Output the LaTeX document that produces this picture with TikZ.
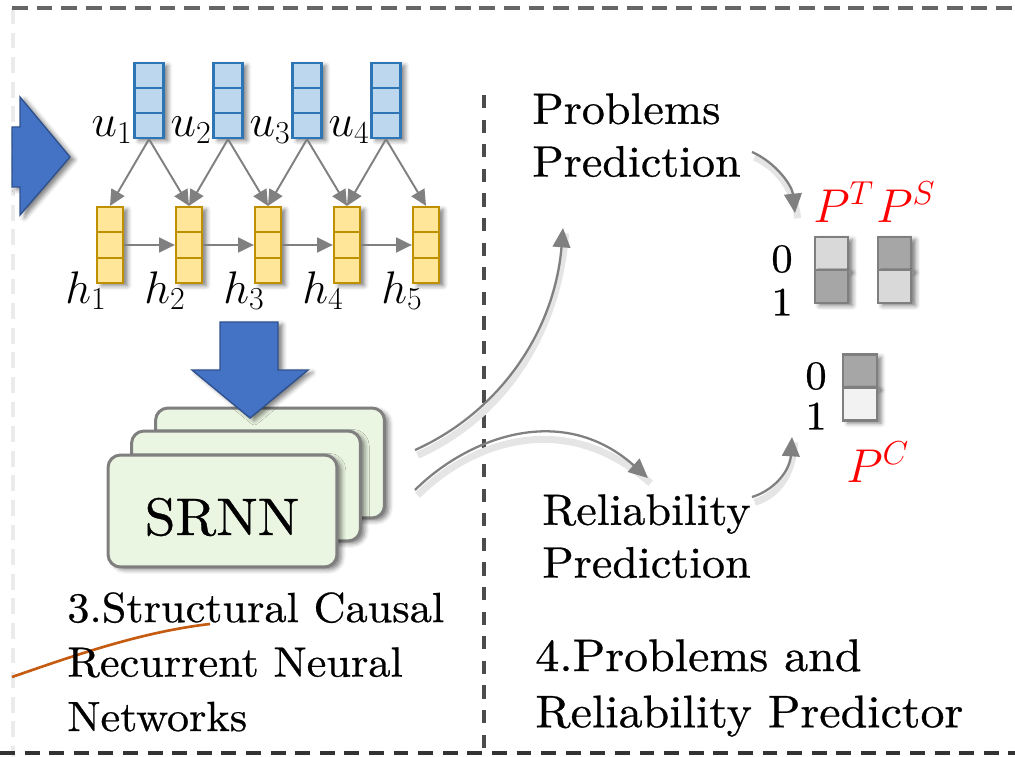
\documentclass[tikz,border=0pt]{standalone}
\usepackage{fix-cm}
\usepackage{fontspec}
\setmainfont{lmroman10-regular.otf}[FakeStretch=1.05, FakeBold=0.6]
\usetikzlibrary{arrows.meta, shadows.blur, calc}

\definecolor{ublue}{HTML}{BDD7EE}
\definecolor{ubluedark}{HTML}{2E75B6}
\definecolor{hyellow}{HTML}{FFE699}
\definecolor{hyellowdark}{HTML}{BF9000}
\definecolor{bigblue}{HTML}{4472C4}
\definecolor{bigbluedark}{HTML}{2F528F}
\definecolor{srnngreen}{HTML}{EBF6E2}
\definecolor{boxgray}{HTML}{7F7F7F}
\definecolor{cellgray}{HTML}{A6A6A6}
\definecolor{celllight}{HTML}{D9D9D9}
\definecolor{cellwhite}{HTML}{F2F2F2}
\definecolor{arrowgray}{HTML}{808080}
\definecolor{linkorange}{HTML}{C55A11}

\tikzset{
  softshadow/.style={blur shadow={shadow xshift=2.5pt, shadow yshift=-1.5pt,
      shadow blur radius=2.5pt, shadow opacity=50}},
  threecell/.style={draw=#1, path picture={
      \draw[#1, line width=1pt]
        ($(path picture bounding box.north west)!1/3!(path picture bounding box.south west)$) --
        ($(path picture bounding box.north east)!1/3!(path picture bounding box.south east)$)
        ($(path picture bounding box.north west)!2/3!(path picture bounding box.south west)$) --
        ($(path picture bounding box.north east)!2/3!(path picture bounding box.south east)$);}},
  uvec/.style={threecell=ubluedark, fill=ublue, line width=1.3pt, minimum width=0.58cm,
      minimum height=1.5cm, inner sep=0pt, softshadow},
  hvec/.style={threecell=hyellowdark, fill=hyellow, line width=1.3pt, minimum width=0.52cm,
      minimum height=1.52cm, inner sep=0pt, softshadow},
  outcell/.style={draw=boxgray, line width=1.2pt, minimum width=0.67cm, minimum height=0.66cm,
      inner sep=0pt, softshadow},
  srnnbox/.style={draw=boxgray, line width=1.7pt, fill=srnngreen, rounded corners=0.25cm,
      minimum width=4.58cm, minimum height=2.2cm, softshadow},
  blockarrow/.style={fill=bigblue, draw=bigbluedark, line width=0.8pt, softshadow},
  garrow/.style={draw=arrowgray, line width=1.1pt, -{Triangle[length=9pt, width=8.5pt]}},
  curvearrow/.style={draw=arrowgray, line width=1.3pt, -{Triangle[length=11pt, width=10pt]},
      preaction={draw=black!10, line width=4pt, arrows=-,
          transform canvas={xshift=1.5pt, yshift=-3pt}}},
  mathlbl/.style={font=\fontsize{26}{30}\selectfont, inner sep=0pt},
  plbl/.style={text=red, font=\fontsize{27}{30}\selectfont, inner sep=0pt},
  digit/.style={font=\fontsize{23}{28}\selectfont, inner sep=0pt},
  bodytxt/.style={font=\fontsize{25}{30}\selectfont, align=left, inner sep=0pt},
  steptxt/.style={font=\fontsize{26}{32}\selectfont, align=left, inner sep=0pt},
  frame/.style={line width=2.4pt}
}

\begin{document}
\begin{tikzpicture}[x=0.02cm, y=-0.02cm]
    \useasboundingbox (0,0) rectangle (1015,757);

    % Frame lines
    \draw[black!8, line width=2pt, dash pattern=on 9pt off 5pt] (13,8) -- (13,757);
    \draw[frame, draw=black!60, dash pattern=on 9pt off 5pt] (12,8) -- (1015,8);
    \draw[frame, draw=black!80, dash pattern=on 8.5pt off 5.5pt] (0,753) -- (1015,753);
    \draw[frame, draw=black!70, dash pattern=on 7.5pt off 6.5pt] (484,95) -- (484,753);

    % Incoming block arrow
    \filldraw[blockarrow] (12,127) -- (20,127) -- (20,97) -- (70,157) -- (20,215)
        -- (20,187) -- (12,187) -- cycle;

    % Input vectors u and hidden vectors h
    \foreach \i in {1,...,4} {
        \node[uvec] (u\i) at ({149+79*(\i-1)},100.5) {};
        \node[mathlbl, anchor=base east] (lu\i) at ({133+79*(\i-1)},137) {$u_{\i}$};
    }
    \foreach \i in {1,...,5} {
        \node[hvec] (h\i) at ({110+79*(\i-1)},245) {};
        \node[mathlbl, anchor=base east] (lh\i) at ({107+79*(\i-1)},303) {$h_{\i}$};
    }

    % Connections
    \foreach \i in {1,...,4} {
        \pgfmathtruncatemacro{\j}{\i+1}
        \draw[garrow] (u\i.south) -- (h\i.north);
        \draw[garrow] (u\i.south) -- (h\j.north);
        \draw[garrow] (h\i.east) -- (h\j.west);
    }

    % Stacked SRNN blocks
    \node[srnnbox] (srnnback) at (270,463) {};
    \node[srnnbox] (srnnmid) at (246,486) {};
    \node[srnnbox, minimum height=2.24cm] (srnnfront) at (222.5,511) {};
    \node[font=\fontsize{30}{36}\selectfont] (srnnlbl) at (222,517) {SRNN};

    % Down block arrow
    \filldraw[blockarrow] (220,322) -- (278,322) -- (278,370) -- (308,370) -- (250,418)
        -- (192,370) -- (220,370) -- cycle;

    % Orange link
    \draw[linkorange, line width=1.5pt] (12,677) .. controls (70,657) and (140,632) .. (210,624);

    \node[steptxt, font=\fontsize{24}{31}\selectfont, anchor=north west] (step3) at (67,592)
        {3.Structural Causal\\Recurrent Neural\\Networks};

    % Predictor texts
    \node[bodytxt, anchor=north west] (prob) at (532,93) {Problems\\Prediction};
    \node[bodytxt, anchor=north west] (rel) at (542,494) {Reliability\\Prediction};
    \node[steptxt, anchor=north west] (step4) at (535,639) {4.Problems and\\Reliability Predictor};

    % Curved arrows
    \coordinate (srnnout1) at (415,450);
    \coordinate (srnnout2) at (415,490);
    \coordinate (probin) at (563,228);
    \coordinate (relin) at (648,478);
    \draw[curvearrow] (srnnout1) .. controls (500,412) and (555,330) .. (probin);
    \draw[curvearrow] (srnnout2) .. controls (465,440) and (560,400) .. (relin);

    \coordinate (probout) at (752,152);
    \coordinate (pTin) at (795,213);
    \coordinate (relout) at (752,497);
    \coordinate (pCin) at (792,437);
    \draw[curvearrow] (probout) .. controls (775,162) and (792,185) .. (pTin);
    \draw[curvearrow] (relout) .. controls (775,490) and (790,470) .. (pCin);

    % Output distributions
    \node[plbl, anchor=base west] (pT) at (813,222) {$P^T$};
    \node[plbl, anchor=base west] (pS) at (876,222) {$P^S$};
    \node[plbl, anchor=base west] (pC) at (846,482) {$P^C$};

    \node[digit] (t0) at (782,259) {0};
    \node[digit] (t1) at (782,302) {1};
    \node[digit] (c0) at (816,376) {0};
    \node[digit] (c1) at (816,416) {1};

    \node[outcell, fill=celllight] (pTtop) at (831.5,253.5) {};
    \node[outcell, fill=cellgray] (pTbot) at (831.5,286.5) {};
    \node[outcell, fill=cellgray] (pStop) at (894.5,253.5) {};
    \node[outcell, fill=celllight] (pSbot) at (894.5,286.5) {};
    \node[outcell, fill=cellgray] (pCtop) at (860,371) {};
    \node[outcell, fill=cellwhite] (pCbot) at (860,404) {};
\end{tikzpicture}
\end{document}
